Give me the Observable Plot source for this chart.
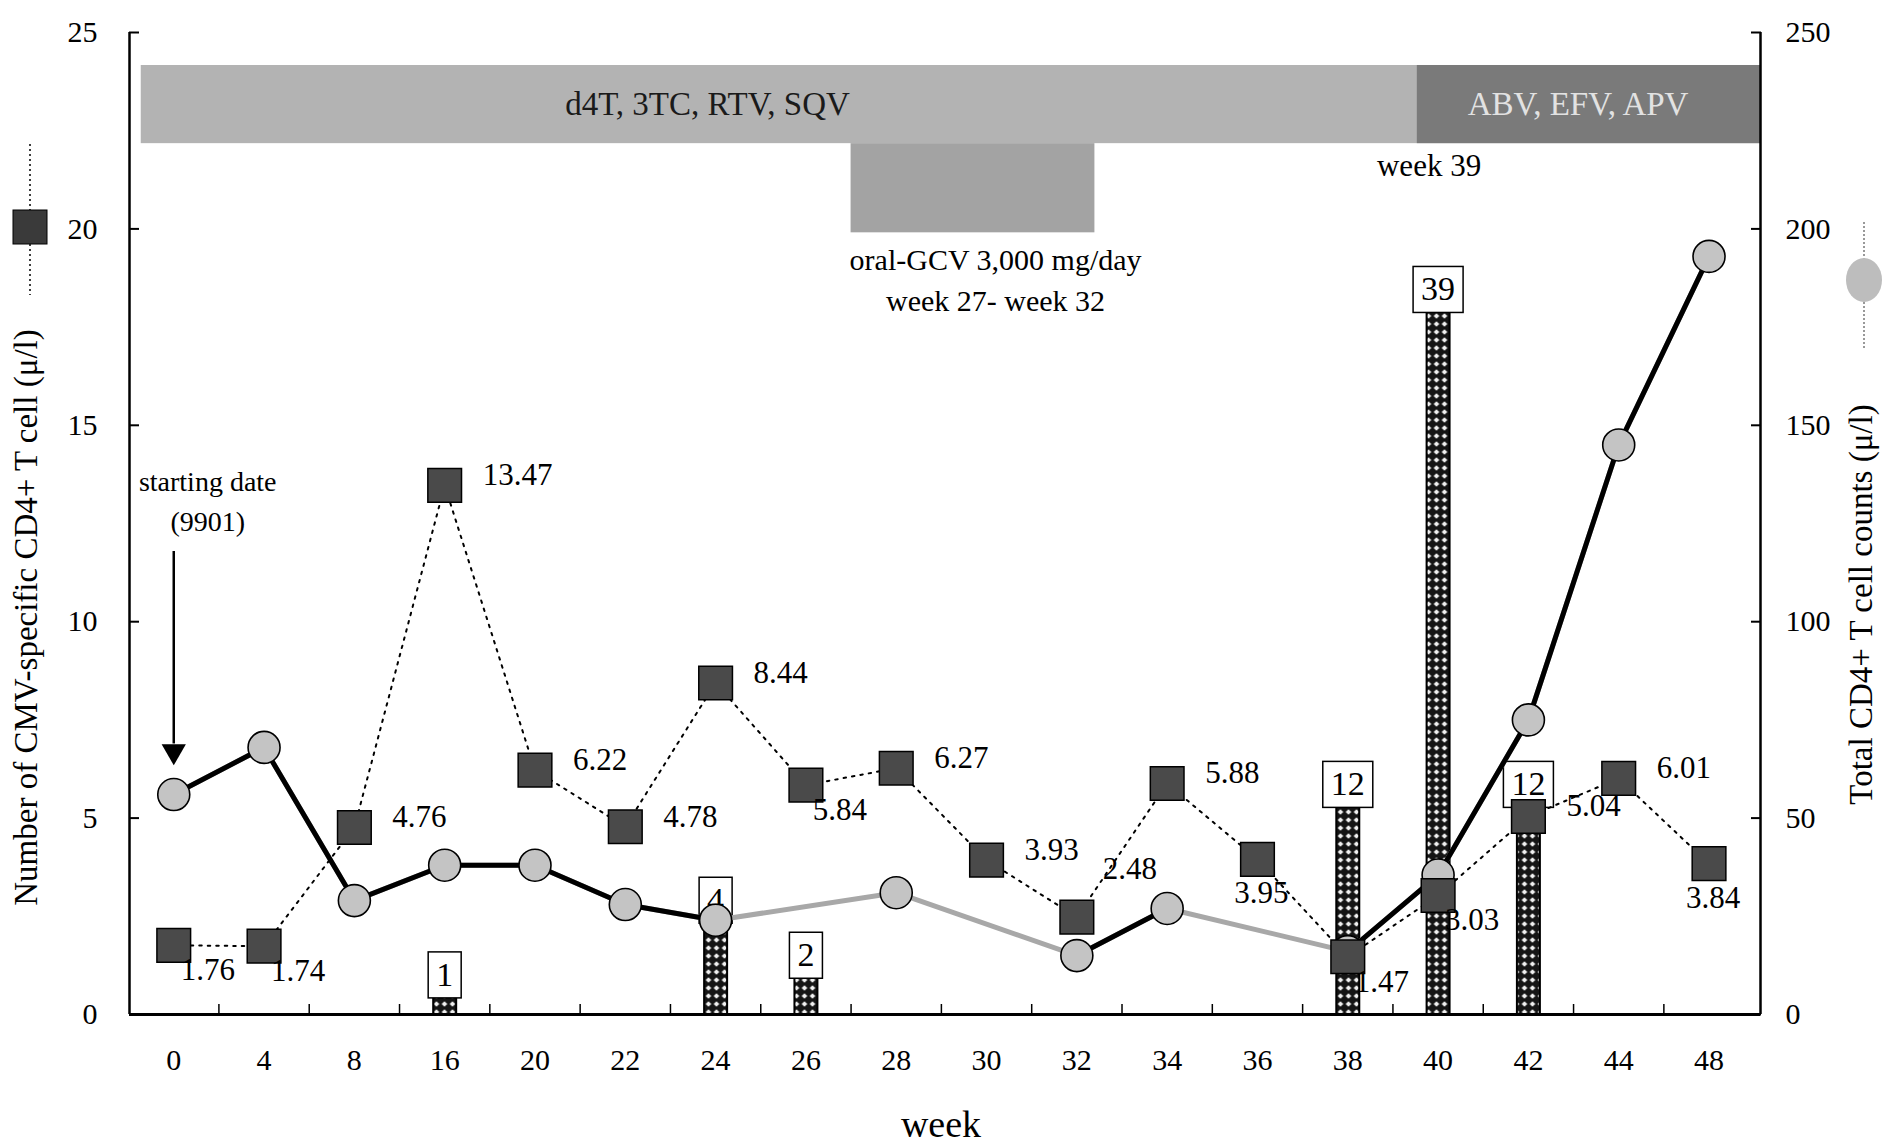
<!DOCTYPE html>
<html><head><meta charset="utf-8">
<script src="https://cdn.jsdelivr.net/npm/d3@7"></script>
<script src="https://cdn.jsdelivr.net/npm/@observablehq/plot@0.6"></script>
<style>body{margin:0;background:#fff} svg{display:block}</style>
</head><body><div id="chart"></div>
<script>
// ---- data ----
const weeks = [0,4,8,16,20,22,24,26,28,30,32,34,36,38,40,42,44,48];
const cmvCD4 = [1.76,1.74,4.76,13.47,6.22,4.78,8.44,5.84,6.27,3.93,2.48,5.88,3.95,1.47,3.03,5.04,6.01,3.84];
const cmvLabelPlacement = ["br","br","r","r","r","r","r","br","r","r","tr","r","b","br","br","r","r","b"];
const totalCD4 = [56,68,29,38,38,28,24,null,31,null,15,27,null,16,35.5,75,145,193];
const barWeeks = [16,24,26,38,40,42];
const barCounts = [1,4,2,12,39,12];
const barHeights = [0.55,2.45,1.05,5.4,18,5.4];
const leftTicks = [0,5,10,15,20,25];
const rightTicks = [0,50,100,150,200,250];
// treatment periods, in positions along the week axis (category index units)
const periodLabels = ["d4T, 3TC, RTV, SQV","ABV, EFV, APV","oral-GCV 3,000 mg/day"];
const periodStart = [-0.36, 13.77, 7.5];
const periodEnd = [17.57, 17.57, 10.2];
const periodLow = [22.17, 22.17, 19.9];
const periodHigh = [24.16, 24.16, 22.17];
const periodFill = ["#b3b3b3", "#7a7a7a", "#a3a3a3"];

const rows = weeks.map((w, i) => ({i, week: w, cmv: cmvCD4[i], place: cmvLabelPlacement[i], total: totalCD4[i]}));
const bars = barWeeks.map((w, k) => ({i: weeks.indexOf(w), count: barCounts[k], h: barHeights[k]}));
const periods = periodLabels.map((l, k) => ({label: l, x1: periodStart[k], x2: periodEnd[k], y1: periodLow[k], y2: periodHigh[k], fill: periodFill[k]}));
const xDomain = [-0.49, 17.57];

const placeOpts = {
  r: {dx: 38, dy: -10, textAnchor: "start"},
  br: {dx: 34, dy: 25, textAnchor: "middle"},
  tr: {dx: 53, dy: -48, textAnchor: "middle"},
  b: {dx: 4, dy: 34, textAnchor: "middle"}
};

const F = 30;
const BOX_INK = "#010101";
const plot = Plot.plot({
  width: 1885, height: 1144,
  marginLeft: 129, marginRight: 125, marginTop: 32, marginBottom: 130,
  style: {fontFamily: "'Liberation Serif', 'Times New Roman', serif", fontSize: F + "px", color: "#000", background: "#fff"},
  x: {type: "linear", domain: xDomain, label: null},
  y: {domain: [0, 25], label: null},
  marks: [
    Plot.rect(periods, {x1: "x1", x2: "x2", y1: "y1", y2: "y2", fill: "fill"}),
    Plot.text([periods[0]], {x: 5.91, y: 23.16, text: "label", fill: "#1a1a1a", fontSize: 33}),
    Plot.text([periods[1]], {x: 15.55, y: 23.16, text: "label", fill: "#e2e2e2", fontSize: 33}),
    Plot.text(["week 39"], {x: 13.9, y: 21.6, text: d => d, fontSize: 31}),
    Plot.text([periods[2]], {x: 9.1, y: 19.2, text: "label", fontSize: 30}),
    Plot.text(["week 27- week 32"], {x: 9.1, y: 18.15, text: d => d, fontSize: 30}),
    // bars of counts
    Plot.ruleX(bars, {x: "i", y1: 0, y2: "h", stroke: "#000", strokeWidth: 25}),
    Plot.ruleX(bars, {x: "i", y1: 0, y2: "h", stroke: "url(#checker)", strokeWidth: 21}),
    Plot.text(bars, {x: "i", y: "h", text: d => String(d.count), lineAnchor: "bottom", dy: -7, fontSize: 34, fill: BOX_INK}),
    // total CD4 line
    Plot.line(rows.filter(d => d.total != null), {x: "i", y: d => d.total / 10, stroke: "#a8a8a8", strokeWidth: 5}),
    Plot.line(rows, {x: "i", y: d => d.total == null ? NaN : d.total / 10, stroke: "#000", strokeWidth: 5}),
    Plot.dot(rows.filter(d => d.total != null), {x: "i", y: d => d.total / 10, r: 16, fill: "#c4c4c4", stroke: "#000", strokeWidth: 1.6}),
    // CMV-specific line
    Plot.line(rows, {x: "i", y: "cmv", stroke: "#000", strokeWidth: 2, strokeDasharray: "2.5,6"}),
    Plot.dot(rows, {x: "i", y: "cmv", symbol: "square", r: 19, fill: "#4a4a4a", stroke: "#000", strokeWidth: 1.5}),
    ...Object.entries(placeOpts).map(([k, o]) =>
      Plot.text(rows.filter(d => d.place === k), {x: "i", y: "cmv", text: d => d.cmv.toFixed(2), fontSize: 31, ...o})),
    // starting date annotation
    Plot.link([0], {x1: 0, x2: 0, y1: 11.8, y2: 6.9, stroke: "#000", strokeWidth: 2.5}),
    Plot.dot([0], {x: 0, y: 6.7, symbol: "triangle", r: 9, rotate: 180, fill: "#000"}),
    Plot.text(["starting date"], {x: 0.376, y: 13.56, text: d => d, fontSize: 28}),
    Plot.text(["(9901)"], {x: 0.376, y: 12.54, text: d => d, fontSize: 28}),
    // frame lines
    Plot.ruleX(xDomain, {stroke: "#000", strokeWidth: 2.5}),
    Plot.ruleY([0], {stroke: "#000", strokeWidth: 3}),
    // axes: labels, and inward-pointing ticks (outward ticks shifted inside)
    Plot.axisY({anchor: "left", ticks: leftTicks, tickSize: 0, tickPadding: 32, fontSize: F, label: null}),
    Plot.axisY({anchor: "left", ticks: leftTicks, tickSize: 10, dx: 10, tickFormat: () => "", strokeWidth: 2, label: null}),
    Plot.axisY({anchor: "right", ticks: rightTicks.map(v => v / 10), tickFormat: v => String(Math.round(v * 10)), tickSize: 0, tickPadding: 25, fontSize: F, label: null}),
    Plot.axisY({anchor: "right", ticks: rightTicks.map(v => v / 10), tickSize: 10, dx: -10, tickFormat: () => "", strokeWidth: 2, label: null}),
    Plot.axisX({ticks: d3.range(weeks.length), tickFormat: i => String(weeks[i]), tickSize: 0, tickPadding: 34, fontSize: F, label: null}),
    Plot.axisX({ticks: d3.range(weeks.length - 1).map(i => i + 0.5), tickSize: 10, dy: -10, tickFormat: () => "", strokeWidth: 1.5, label: null}),
    // axis titles
    Plot.text(["Number of CMV-specific CD4+ T cell (\u03bc/l)"], {frameAnchor: "left", textAnchor: "middle", lineAnchor: "middle", dx: -103, dy: 94, rotate: -90, text: d => d, fontSize: 33}),
    Plot.text(["Total CD4+ T cell counts (\u03bc/l)"], {frameAnchor: "right", textAnchor: "middle", lineAnchor: "middle", dx: 101, dy: 81, rotate: -90, text: d => d, fontSize: 33}),
    Plot.text(["week"], {frameAnchor: "bottom", textAnchor: "middle", lineAnchor: "middle", dx: -4, dy: 110, text: d => d, fontSize: 38})
  ]
});

document.getElementById("chart").appendChild(plot);
const svg = d3.select(plot);
const defs = svg.insert("defs", ":first-child");
const pat = defs.append("pattern").attr("id", "checker").attr("patternUnits", "userSpaceOnUse").attr("width", 8).attr("height", 8);
pat.append("rect").attr("width", 8).attr("height", 8).attr("fill", "#151515");
pat.append("path").attr("d", "M4,1.2 L6.8,4 L4,6.8 L1.2,4 Z").attr("fill", "#f0f0f0");

// boxes around the count labels
svg.selectAll("g").filter(function () { return this.getAttribute("fill") === BOX_INK; }).selectAll("text").each(function () {
  const b = this.getBBox();
  const t = this;
  d3.select(t.parentNode).insert("rect", () => t)
    .attr("x", b.x - 8).attr("y", b.y - 4).attr("width", b.width + 16).attr("height", b.height + 9)
    .attr("transform", t.getAttribute("transform"))
    .attr("fill", "#fff").attr("stroke", "#000").attr("stroke-width", 1.5);
});

// legend symbols beside the axis titles
const lg = svg.append("g");
lg.append("line").attr("x1", 30).attr("x2", 30).attr("y1", 144).attr("y2", 295).attr("stroke", "#000").attr("stroke-width", 1.5).attr("stroke-dasharray", "2,3");
lg.append("rect").attr("x", 13).attr("y", 210).attr("width", 34).attr("height", 34).attr("fill", "#3a3a3a").attr("stroke", "#000");
lg.append("line").attr("x1", 1864).attr("x2", 1864).attr("y1", 222).attr("y2", 349).attr("stroke", "#999").attr("stroke-width", 2).attr("stroke-dasharray", "2,2");
lg.append("ellipse").attr("cx", 1864).attr("cy", 280).attr("rx", 18).attr("ry", 22).attr("fill", "#bdbdbd");
</script>
</body></html>
